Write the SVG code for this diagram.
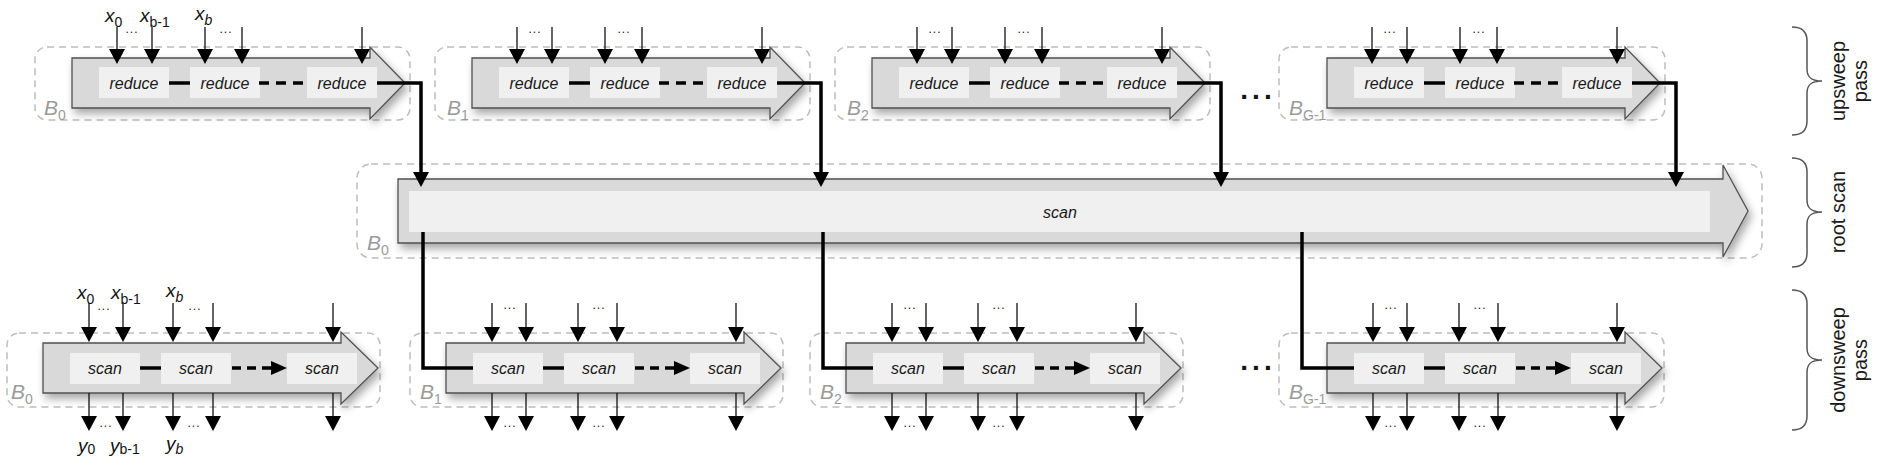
<svg xmlns="http://www.w3.org/2000/svg" width="1889" height="471" viewBox="0 0 1889 471">
<style>
.dash{fill:none;stroke:#bdbdbd;stroke-width:1.5;stroke-dasharray:7 5}
.arr{fill:#d9d9d9;stroke:#505050;stroke-width:1.3;filter:url(#sh)}
.box{fill:#f0f0f0}
.lbl{font-family:"Liberation Sans",Arial,sans-serif;font-style:italic;font-size:16px;text-anchor:middle;fill:#1a1a1a}
.thin{stroke:#111;stroke-width:1.3;fill:none;marker-end:url(#ah)}
.k{stroke:#000;stroke-width:3.5;fill:none}
.kd{stroke-dasharray:10 7}
.sd{font-family:"Liberation Sans",Arial,sans-serif;font-size:12px;letter-spacing:1px;text-anchor:middle;fill:#111}
.bd{font-family:"Liberation Sans",Arial,sans-serif;font-size:28px;font-weight:bold;letter-spacing:4px;text-anchor:middle;fill:#111}
.bl{font-family:"Liberation Sans",Arial,sans-serif;font-style:italic;font-size:21px;fill:#9a9a9a}
.bs{font-size:14px;font-style:normal}
.var{font-family:"Liberation Sans",Arial,sans-serif;font-style:italic;font-size:19px;fill:#111}
.vs{font-size:14px;font-style:normal}
.vi{font-size:14px;font-style:italic}
.side{font-family:"Liberation Sans",Arial,sans-serif;font-size:20px;text-anchor:middle;fill:#1a1a1a}
.brace{fill:none;stroke:#555;stroke-width:1.5}
</style>
<defs>
<filter id="sh" x="-5%" y="-20%" width="115%" height="170%">
<feDropShadow dx="3" dy="5" stdDeviation="4" flood-color="#000" flood-opacity="0.35"/>
</filter>
<marker id="ah" markerUnits="userSpaceOnUse" markerWidth="15" markerHeight="16" viewBox="0 0 15 16" refX="13" refY="8" orient="auto"><path d="M0,0L15,8L0,16z" fill="#000"/></marker>
<marker id="ahk" markerUnits="userSpaceOnUse" markerWidth="15" markerHeight="16" viewBox="0 0 15 16" refX="8" refY="8" orient="auto"><path d="M0,0L15,8L0,16z" fill="#000"/></marker>
<marker id="ahd" markerUnits="userSpaceOnUse" markerWidth="16" markerHeight="14" viewBox="0 0 16 14" refX="8" refY="7" orient="auto"><path d="M0,0L16,7L0,14z" fill="#000"/></marker>
</defs>
<rect width="1889" height="471" fill="#fff"/>

<!-- upsweep blocks -->
<g id="up-B0">
<rect class="dash" x="35" y="47" width="375" height="73" rx="12"/>
<polygon class="arr" points="72,58 370,58 370,47 405,83 370,119 370,108 72,108"/>
<rect class="box" x="99" y="67" width="70" height="31"/><rect class="box" x="190" y="67" width="70" height="31"/><rect class="box" x="307" y="67" width="70" height="31"/>
<text class="lbl" x="134" y="89">reduce</text><text class="lbl" x="225" y="89">reduce</text><text class="lbl" x="342" y="89">reduce</text>
<line class="k" x1="169" y1="83" x2="190" y2="83"/><line class="k kd" x1="259" y1="83" x2="303" y2="83"/>
<line class="thin" x1="117" y1="27" x2="117" y2="62"/><line class="thin" x1="152" y1="27" x2="152" y2="62"/><line class="thin" x1="205" y1="27" x2="205" y2="62"/><line class="thin" x1="242" y1="27" x2="242" y2="62"/><line class="thin" x1="362" y1="27" x2="362" y2="62"/>
<text class="sd" x="132" y="33">...</text><text class="sd" x="226" y="33">...</text>
<text class="var" x="105" y="22">x<tspan class="vs" dy="5">0</tspan></text>
<text class="var" x="140" y="22">x<tspan class="vs" dy="5">b-1</tspan></text>
<text class="var" x="195" y="20">x<tspan class="vi" dy="5">b</tspan></text>
<text class="bl" x="44" y="115">B<tspan class="bs" dy="5">0</tspan></text>
</g>
<g id="up-B1" transform="translate(400,0)">
<rect class="dash" x="35" y="47" width="375" height="73" rx="12"/>
<polygon class="arr" points="72,58 370,58 370,47 405,83 370,119 370,108 72,108"/>
<rect class="box" x="99" y="67" width="70" height="31"/><rect class="box" x="190" y="67" width="70" height="31"/><rect class="box" x="307" y="67" width="70" height="31"/>
<text class="lbl" x="134" y="89">reduce</text><text class="lbl" x="225" y="89">reduce</text><text class="lbl" x="342" y="89">reduce</text>
<line class="k" x1="169" y1="83" x2="190" y2="83"/><line class="k kd" x1="259" y1="83" x2="303" y2="83"/>
<line class="thin" x1="117" y1="27" x2="117" y2="62"/><line class="thin" x1="152" y1="27" x2="152" y2="62"/><line class="thin" x1="205" y1="27" x2="205" y2="62"/><line class="thin" x1="242" y1="27" x2="242" y2="62"/><line class="thin" x1="362" y1="27" x2="362" y2="62"/>
<text class="sd" x="135" y="33">...</text><text class="sd" x="224" y="33">...</text>
<text class="bl" x="47" y="115">B<tspan class="bs" dy="5">1</tspan></text>
</g>
<g id="up-B2" transform="translate(800,0)">
<rect class="dash" x="35" y="47" width="375" height="73" rx="12"/>
<polygon class="arr" points="72,58 370,58 370,47 405,83 370,119 370,108 72,108"/>
<rect class="box" x="99" y="67" width="70" height="31"/><rect class="box" x="190" y="67" width="70" height="31"/><rect class="box" x="307" y="67" width="70" height="31"/>
<text class="lbl" x="134" y="89">reduce</text><text class="lbl" x="225" y="89">reduce</text><text class="lbl" x="342" y="89">reduce</text>
<line class="k" x1="169" y1="83" x2="190" y2="83"/><line class="k kd" x1="259" y1="83" x2="303" y2="83"/>
<line class="thin" x1="117" y1="27" x2="117" y2="62"/><line class="thin" x1="152" y1="27" x2="152" y2="62"/><line class="thin" x1="205" y1="27" x2="205" y2="62"/><line class="thin" x1="242" y1="27" x2="242" y2="62"/><line class="thin" x1="362" y1="27" x2="362" y2="62"/>
<text class="sd" x="135" y="33">...</text><text class="sd" x="224" y="33">...</text>
<text class="bl" x="47" y="115">B<tspan class="bs" dy="5">2</tspan></text>
</g>
<g id="up-BG-1" transform="translate(1255,0)">
<rect class="dash" x="24" y="47" width="386" height="73" rx="12"/>
<polygon class="arr" points="72,58 370,58 370,47 405,83 370,119 370,108 72,108"/>
<rect class="box" x="99" y="67" width="70" height="31"/><rect class="box" x="190" y="67" width="70" height="31"/><rect class="box" x="307" y="67" width="70" height="31"/>
<text class="lbl" x="134" y="89">reduce</text><text class="lbl" x="225" y="89">reduce</text><text class="lbl" x="342" y="89">reduce</text>
<line class="k" x1="169" y1="83" x2="190" y2="83"/><line class="k kd" x1="259" y1="83" x2="303" y2="83"/>
<line class="thin" x1="117" y1="27" x2="117" y2="62"/><line class="thin" x1="152" y1="27" x2="152" y2="62"/><line class="thin" x1="205" y1="27" x2="205" y2="62"/><line class="thin" x1="242" y1="27" x2="242" y2="62"/><line class="thin" x1="362" y1="27" x2="362" y2="62"/>
<text class="sd" x="135" y="33">...</text><text class="sd" x="224" y="33">...</text>
<text class="bl" x="34" y="115">B<tspan class="bs" dy="5">G-1</tspan></text>
</g>
<text id="up-ellipsis" class="bd" x="1258" y="99">...</text>

<!-- root scan -->
<g id="root">
<rect class="dash" x="357" y="164" width="1405" height="94" rx="14"/>
<polygon class="arr" points="398,179 1723,179 1723,165 1748,211 1723,257 1723,243 398,243"/>
<rect class="box" x="409" y="191" width="1301" height="41"/>
<text class="lbl" x="1060" y="218">scan</text>
<text class="bl" x="367" y="250">B<tspan class="bs" dy="5">0</tspan></text>
</g>

<!-- downsweep blocks -->
<g id="down-B0">
<rect class="dash" x="7" y="333" width="373" height="74" rx="12"/>
<polygon class="arr" points="43,343 341,343 341,332 378,368 341,404 341,393 43,393"/>
<rect class="box" x="70" y="353" width="70" height="31"/><rect class="box" x="161" y="353" width="70" height="31"/><rect class="box" x="287" y="353" width="70" height="31"/>
<text class="lbl" x="105" y="374">scan</text><text class="lbl" x="196" y="374">scan</text><text class="lbl" x="322" y="374">scan</text>
<line class="k" x1="140" y1="368" x2="161" y2="368"/><line class="k" stroke-dasharray="9 6" x1="232" y1="368" x2="279" y2="368" marker-end="url(#ahd)"/>
<line class="thin" x1="89" y1="303" x2="89" y2="340"/><line class="thin" x1="123" y1="303" x2="123" y2="340"/><line class="thin" x1="173" y1="303" x2="173" y2="340"/><line class="thin" x1="213" y1="303" x2="213" y2="340"/><line class="thin" x1="333" y1="303" x2="333" y2="340"/>
<line class="thin" x1="89" y1="393" x2="89" y2="429"/><line class="thin" x1="123" y1="393" x2="123" y2="429"/><line class="thin" x1="173" y1="393" x2="173" y2="429"/><line class="thin" x1="213" y1="393" x2="213" y2="429"/><line class="thin" x1="333" y1="393" x2="333" y2="429"/>
<text class="sd" x="104" y="310">...</text><text class="sd" x="195" y="310">...</text>
<text class="sd" x="106" y="427">...</text><text class="sd" x="194" y="427">...</text>
<text class="var" x="77" y="299">x<tspan class="vs" dy="5">0</tspan></text>
<text class="var" x="111" y="299">x<tspan class="vs" dy="5">b-1</tspan></text>
<text class="var" x="166" y="297">x<tspan class="vi" dy="5">b</tspan></text>
<text class="var" x="78" y="452">y<tspan class="vs" dy="2">0</tspan></text>
<text class="var" x="110" y="452">y<tspan class="vs" dy="2">b-1</tspan></text>
<text class="var" x="166" y="450">y<tspan class="vi" dy="4">b</tspan></text>
<text class="bl" x="11" y="399">B<tspan class="bs" dy="5">0</tspan></text>
</g>
<g id="down-B1" transform="translate(403,0)">
<rect class="dash" x="7" y="333" width="373" height="74" rx="12"/>
<polygon class="arr" points="43,343 341,343 341,332 378,368 341,404 341,393 43,393"/>
<rect class="box" x="70" y="353" width="70" height="31"/><rect class="box" x="161" y="353" width="70" height="31"/><rect class="box" x="287" y="353" width="70" height="31"/>
<text class="lbl" x="105" y="374">scan</text><text class="lbl" x="196" y="374">scan</text><text class="lbl" x="322" y="374">scan</text>
<line class="k" x1="140" y1="368" x2="161" y2="368"/><line class="k" stroke-dasharray="9 6" x1="232" y1="368" x2="279" y2="368" marker-end="url(#ahd)"/>
<line class="thin" x1="89" y1="303" x2="89" y2="340"/><line class="thin" x1="123" y1="303" x2="123" y2="340"/><line class="thin" x1="175" y1="303" x2="175" y2="340"/><line class="thin" x1="214" y1="303" x2="214" y2="340"/><line class="thin" x1="333" y1="303" x2="333" y2="340"/>
<line class="thin" x1="89" y1="393" x2="89" y2="429"/><line class="thin" x1="123" y1="393" x2="123" y2="429"/><line class="thin" x1="175" y1="393" x2="175" y2="429"/><line class="thin" x1="214" y1="393" x2="214" y2="429"/><line class="thin" x1="333" y1="393" x2="333" y2="429"/>
<text class="sd" x="107" y="309">...</text><text class="sd" x="196" y="309">...</text>
<text class="sd" x="107" y="427">...</text><text class="sd" x="196" y="427">...</text>
<text class="bl" x="17" y="399">B<tspan class="bs" dy="5">1</tspan></text>
</g>
<g id="down-B2" transform="translate(803,0)">
<rect class="dash" x="7" y="333" width="373" height="74" rx="12"/>
<polygon class="arr" points="43,343 341,343 341,332 378,368 341,404 341,393 43,393"/>
<rect class="box" x="70" y="353" width="70" height="31"/><rect class="box" x="161" y="353" width="70" height="31"/><rect class="box" x="287" y="353" width="70" height="31"/>
<text class="lbl" x="105" y="374">scan</text><text class="lbl" x="196" y="374">scan</text><text class="lbl" x="322" y="374">scan</text>
<line class="k" x1="140" y1="368" x2="161" y2="368"/><line class="k" stroke-dasharray="9 6" x1="232" y1="368" x2="279" y2="368" marker-end="url(#ahd)"/>
<line class="thin" x1="89" y1="303" x2="89" y2="340"/><line class="thin" x1="123" y1="303" x2="123" y2="340"/><line class="thin" x1="175" y1="303" x2="175" y2="340"/><line class="thin" x1="214" y1="303" x2="214" y2="340"/><line class="thin" x1="333" y1="303" x2="333" y2="340"/>
<line class="thin" x1="89" y1="393" x2="89" y2="429"/><line class="thin" x1="123" y1="393" x2="123" y2="429"/><line class="thin" x1="175" y1="393" x2="175" y2="429"/><line class="thin" x1="214" y1="393" x2="214" y2="429"/><line class="thin" x1="333" y1="393" x2="333" y2="429"/>
<text class="sd" x="107" y="309">...</text><text class="sd" x="196" y="309">...</text>
<text class="sd" x="107" y="427">...</text><text class="sd" x="196" y="427">...</text>
<text class="bl" x="17" y="399">B<tspan class="bs" dy="5">2</tspan></text>
</g>
<g id="down-BG-1" transform="translate(1284,0)">
<rect class="dash" x="-5" y="333" width="385" height="74" rx="12"/>
<polygon class="arr" points="43,343 341,343 341,332 378,368 341,404 341,393 43,393"/>
<rect class="box" x="70" y="353" width="70" height="31"/><rect class="box" x="161" y="353" width="70" height="31"/><rect class="box" x="287" y="353" width="70" height="31"/>
<text class="lbl" x="105" y="374">scan</text><text class="lbl" x="196" y="374">scan</text><text class="lbl" x="322" y="374">scan</text>
<line class="k" x1="140" y1="368" x2="161" y2="368"/><line class="k" stroke-dasharray="9 6" x1="232" y1="368" x2="279" y2="368" marker-end="url(#ahd)"/>
<line class="thin" x1="89" y1="303" x2="89" y2="340"/><line class="thin" x1="123" y1="303" x2="123" y2="340"/><line class="thin" x1="175" y1="303" x2="175" y2="340"/><line class="thin" x1="214" y1="303" x2="214" y2="340"/><line class="thin" x1="333" y1="303" x2="333" y2="340"/>
<line class="thin" x1="89" y1="393" x2="89" y2="429"/><line class="thin" x1="123" y1="393" x2="123" y2="429"/><line class="thin" x1="175" y1="393" x2="175" y2="429"/><line class="thin" x1="214" y1="393" x2="214" y2="429"/><line class="thin" x1="333" y1="393" x2="333" y2="429"/>
<text class="sd" x="107" y="309">...</text><text class="sd" x="196" y="309">...</text>
<text class="sd" x="107" y="427">...</text><text class="sd" x="196" y="427">...</text>
<text class="bl" x="5" y="399">B<tspan class="bs" dy="5">G-1</tspan></text>
</g>
<text id="down-ellipsis" class="bd" x="1258" y="370">...</text>

<!-- connectors -->
<g id="connectors">
<polyline class="k" points="377,83 421,83 421,180" marker-end="url(#ahk)"/>
<polyline class="k" points="777,83 821,83 821,180" marker-end="url(#ahk)"/>
<polyline class="k" points="1177,83 1221,83 1221,180" marker-end="url(#ahk)"/>
<polyline class="k" points="1632,83 1676,83 1676,180" marker-end="url(#ahk)"/>
<polyline class="k" points="423,232 423,368 473,368"/>
<polyline class="k" points="823,232 823,368 873,368"/>
<polyline class="k" points="1302,232 1302,368 1354,368"/>
</g>

<!-- side braces -->
<g id="phase-upsweep">
<path class="brace" d="M1792,27 C1802,27 1807,31 1807,41 L1807,69 C1807,77 1811,81 1822,81 C1811,81 1807,85 1807,93 L1807,121 C1807,131 1802,135 1792,135"/>
<text class="side" transform="translate(1845,81) rotate(-90)">upsweep</text>
<text class="side" transform="translate(1867,81) rotate(-90)">pass</text>
</g>
<g id="phase-root">
<path class="brace" d="M1792,158 C1802,158 1807,162 1807,172 L1807,200 C1807,208 1811,212 1822,212 C1811,212 1807,216 1807,224 L1807,253 C1807,263 1802,267 1792,267"/>
<text class="side" transform="translate(1845,212) rotate(-90)">root scan</text>
</g>
<g id="phase-downsweep">
<path class="brace" d="M1792,290 C1802,290 1807,294 1807,304 L1807,348 C1807,356 1811,360 1822,360 C1811,360 1807,364 1807,372 L1807,416 C1807,426 1802,430 1792,430"/>
<text class="side" transform="translate(1845,360) rotate(-90)">downsweep</text>
<text class="side" transform="translate(1867,360) rotate(-90)">pass</text>
</g>
</svg>
